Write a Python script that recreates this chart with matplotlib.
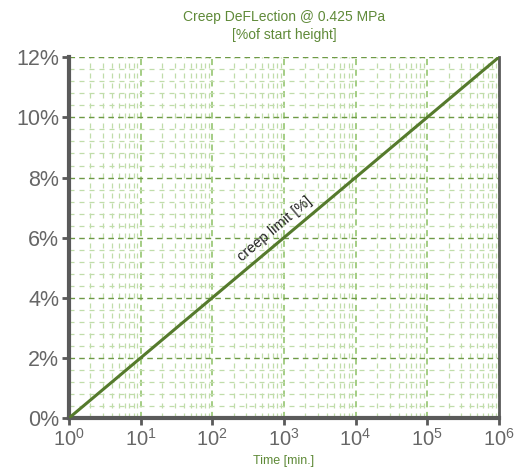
import matplotlib

matplotlib.use("Agg")
import matplotlib.pyplot as plt
from matplotlib.ticker import LogLocator, MultipleLocator, FuncFormatter

plt.rcParams["font.family"] = ["Liberation Sans", "DejaVu Sans"]
plt.rcParams["mathtext.fontset"] = "custom"
plt.rcParams["mathtext.rm"] = "Liberation Sans"
plt.rcParams["mathtext.it"] = "Liberation Sans"

# creep limit line: time [min.] vs deflection [%]
time_min = [1, 1e6]
creep_pct = [0, 12]

GREEN = "#5f8a38"
LINE = "#557a2c"
MAJOR_X = "#8cc063"
MAJOR_Y = "#6e9a45"
MINOR = "#c0ddaa"
GREY = "#5a5a5a"
LABEL = "#666666"

fig = plt.figure(figsize=(5.18, 4.73), dpi=100)
ax = fig.add_axes([0.133, 0.116, 0.830, 0.763])

ax.plot(time_min, creep_pct, color=LINE, linewidth=2.2, zorder=5)
ax.set_xscale("log")
ax.set_xlim(1, 1e6)
ax.set_ylim(0, 12)

ax.xaxis.set_major_locator(LogLocator(base=10, numticks=10))
ax.xaxis.set_minor_locator(LogLocator(base=10, subs=range(2, 10), numticks=20))
ax.yaxis.set_major_locator(MultipleLocator(2))
ax.yaxis.set_minor_locator(MultipleLocator(0.4))
ax.yaxis.set_major_formatter(FuncFormatter(lambda v, p: f"{v:.0f}%"))

ax.grid(True, which="major", axis="x", color=MAJOR_X, linestyle=(0, (4, 3)), linewidth=1.1)
ax.grid(True, which="major", axis="y", color=MAJOR_Y, linestyle=(0, (4, 3)), linewidth=1.0)
ax.grid(True, which="minor", color=MINOR, linestyle=(0, (4, 4)), linewidth=0.9)

ax.tick_params(which="major", direction="out", length=5, width=2, color=GREY,
               labelcolor=LABEL, pad=2)
ax.tick_params(axis="y", labelsize=15.5)
ax.tick_params(axis="x", labelsize=14.5)
ax.tick_params(which="minor", length=0)

for side in ("left", "bottom"):
    ax.spines[side].set_color(GREY)
    ax.spines[side].set_linewidth(3)
ax.spines["right"].set_color(GREY)
ax.spines["right"].set_linewidth(2)
ax.spines["top"].set_visible(False)

ax.set_title("Creep DeFLection @ 0.425 MPa\n[%of start height]", color=GREEN,
             fontsize=10, pad=13, linespacing=1.35)
ax.set_xlabel("Time [min.]", color=GREEN, fontsize=9, labelpad=4)

ax.text(750, 6.3, "creep limit [%]", rotation=40, rotation_mode="anchor",
        ha="center", va="center", fontsize=10.5, color="#222222", zorder=6)

fig.savefig("out.png", dpi=100)
